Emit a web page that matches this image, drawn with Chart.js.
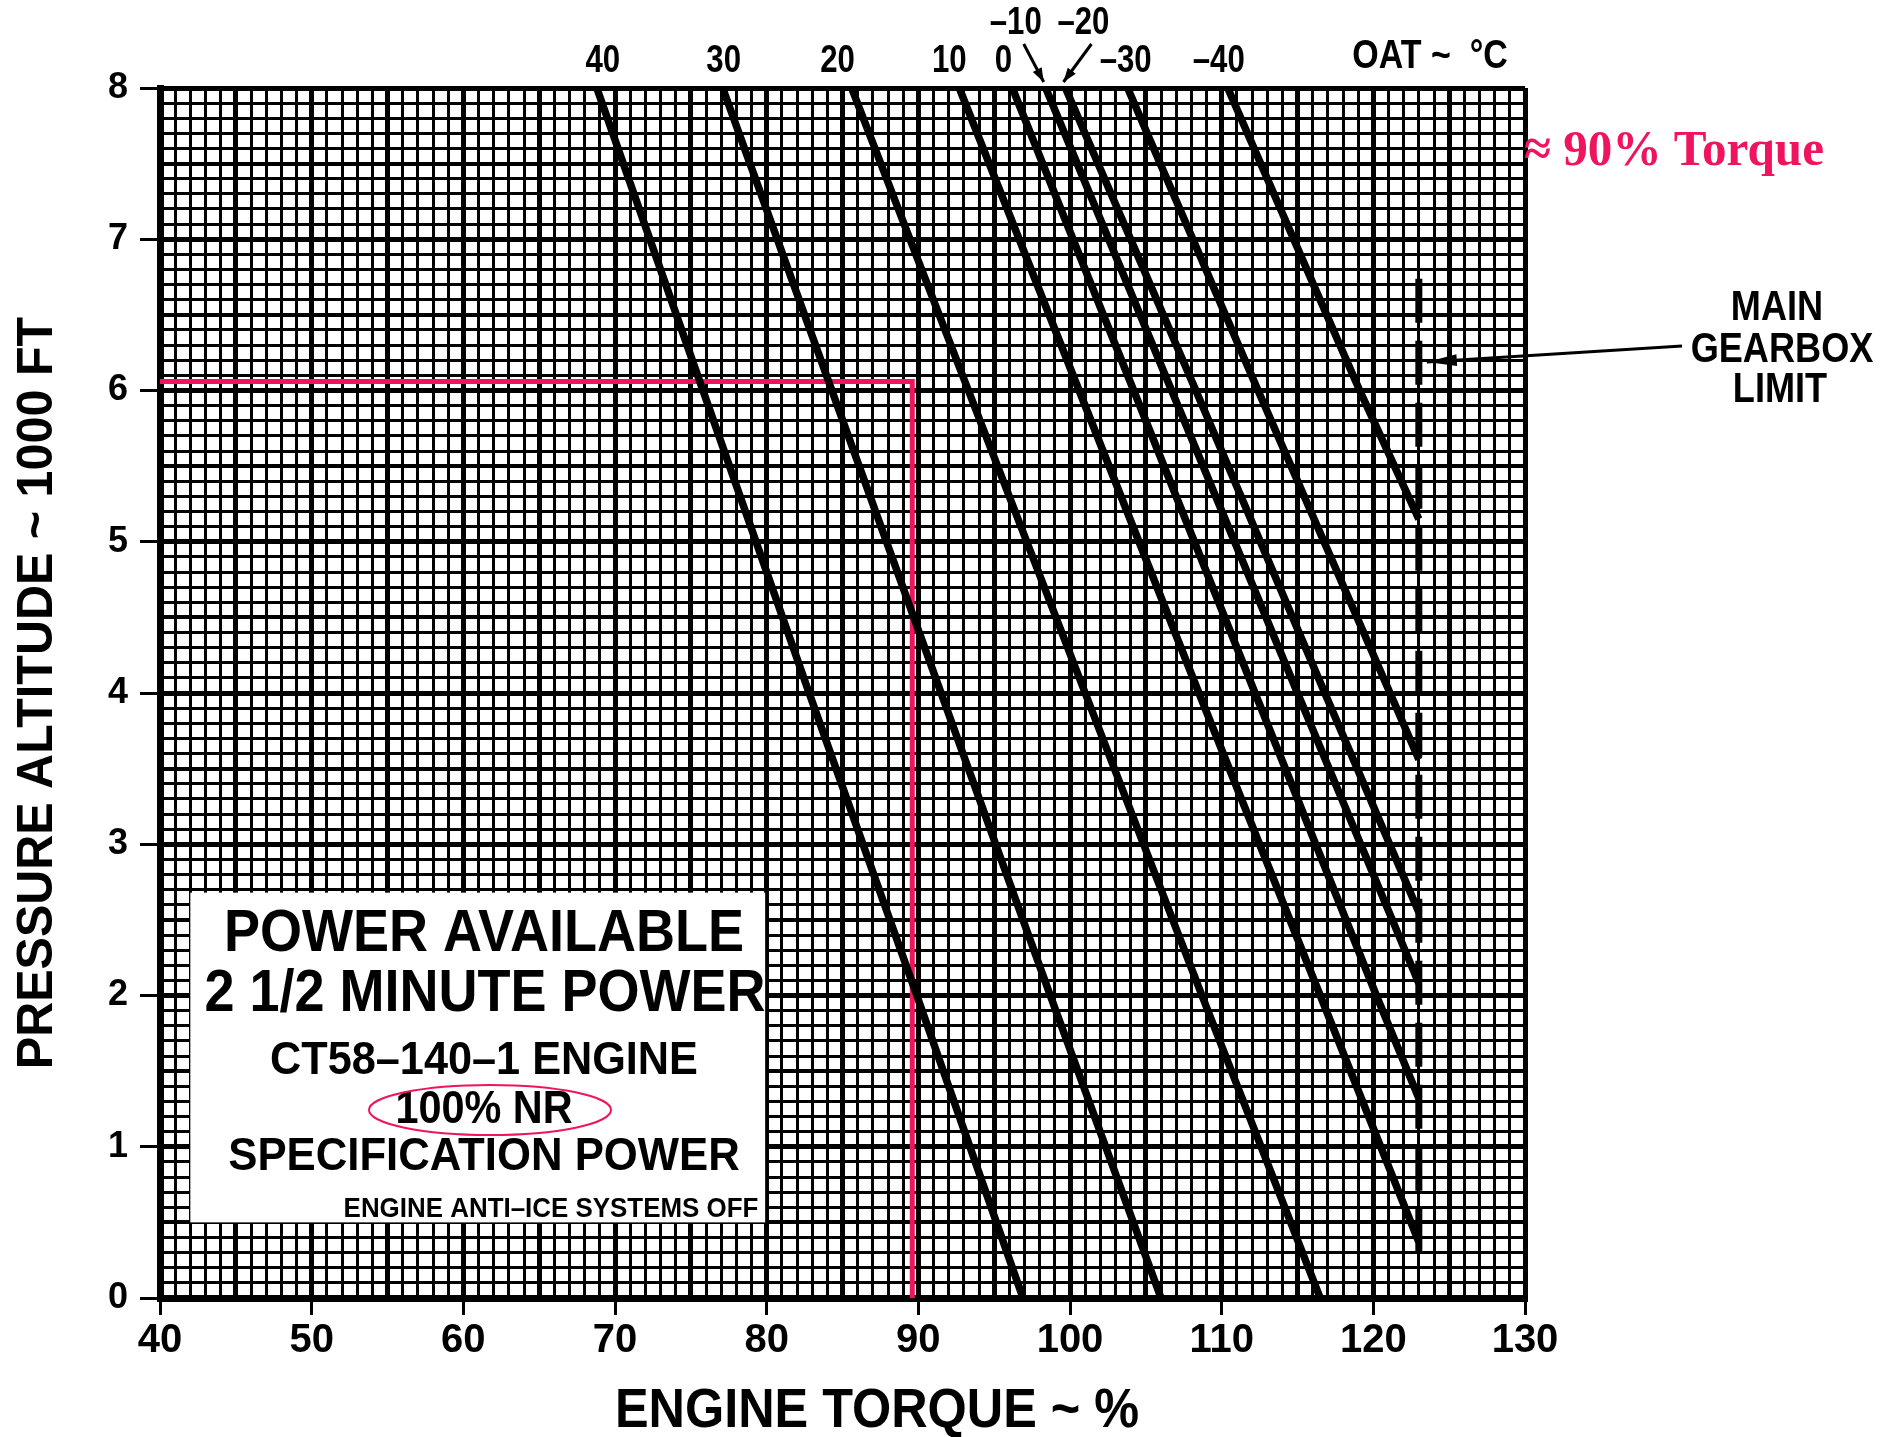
<!DOCTYPE html>
<html>
<head>
<meta charset="utf-8">
<script src="https://cdn.jsdelivr.net/npm/chart.js@4.4.1/dist/chart.umd.min.js"></script>
<style>
  body { margin: 0; background: #fff; }
  #wrap { width: 1881px; height: 1437px; }
</style>
</head>
<body>
<div id="wrap"><canvas id="myChart" width="1881" height="1437"></canvas></div>
<script>
// OAT lines: engine torque (%) against pressure altitude (1000 ft)
const oatLabels = ["40", "30", "20", "10", "0", "–10", "–20", "–30", "–40"];

const alt40 = [8, 6, 4, 2, 0];
const tq40 = [68.8, 75.8, 82.8, 89.9, 96.9];
const alt30 = [8, 6, 4, 2, 0];
const tq30 = [77.1, 84.3, 91.5, 98.7, 106.0];
const alt20 = [8, 6, 4, 2, 0];
const tq20 = [85.6, 93.3, 101.0, 108.7, 116.5];
const alt10 = [8, 6, 4, 2, 0.37];
const tq10 = [92.7, 100.6, 108.5, 116.5, 123];
const alt0 = [8, 6, 4, 2, 1.32];
const tq0 = [96.2, 104.2, 112.2, 120.2, 123];
const altM10 = [8, 6, 4, 2.08];
const tqM10 = [98.4, 106.7, 115.0, 123];
const altM20 = [8, 6, 4, 2.55];
const tqM20 = [99.7, 108.3, 116.8, 123];
const altM30 = [8, 6, 4, 3.56];
const tqM30 = [103.8, 112.4, 121.1, 123];
const altM40 = [8, 6, 5.15];
const tqM40 = [110.4, 119.1, 123];

// main gearbox limit (dashed)
const limitTorque = [123, 123];
const limitAlt = [0.3, 6.77];

// red reading guide (6000 ft -> ~90 %)
const guideTorque = [40, 89.6, 89.6];
const guideAlt = [6.06, 6.06, 0];

const torqueTicks = [40, 50, 60, 70, 80, 90, 100, 110, 120, 130];
const altTicks = [0, 1, 2, 3, 4, 5, 6, 7, 8];

const oatAlts = [alt40, alt30, alt20, alt10, alt0, altM10, altM20, altM30, altM40];
const oatTqs = [tq40, tq30, tq20, tq10, tq0, tqM10, tqM20, tqM30, tqM40];

function pts(xs, ys) {
  return xs.map((v, i) => ({x: v, y: ys[i]}));
}

const datasets = oatLabels.map((lab, i) => ({
  label: lab,
  data: pts(oatTqs[i], oatAlts[i]),
  borderColor: "#000",
  borderWidth: 7.5,
  pointRadius: 0,
  fill: false
}));
datasets.push({
  label: "limit",
  data: pts(limitTorque, limitAlt),
  borderColor: "#000",
  borderWidth: 7,
  borderDash: [44, 18],
  pointRadius: 0
});
datasets.push({
  label: "guide",
  data: pts(guideTorque, guideAlt),
  borderColor: "#f0145f",
  borderWidth: 5,
  pointRadius: 0
});

const FONT = "'Liberation Sans', Arial, sans-serif";

function squeezeText(ctx, text, x, y, size, squeeze, align) {
  ctx.save();
  ctx.font = "bold " + size + "px " + FONT;
  ctx.textAlign = align || "center";
  ctx.textBaseline = "middle";
  ctx.translate(x, y);
  ctx.scale(squeeze, 1);
  ctx.fillText(text, 0, 0);
  ctx.restore();
}

function arrow(ctx, x1, y1, x2, y2, head, wing) {
  ctx.beginPath();
  ctx.moveTo(x1, y1);
  ctx.lineTo(x2, y2);
  ctx.stroke();
  const a = Math.atan2(y2 - y1, x2 - x1);
  ctx.beginPath();
  ctx.moveTo(x2, y2);
  ctx.lineTo(x2 - head * Math.cos(a) + wing * Math.sin(a), y2 - head * Math.sin(a) - wing * Math.cos(a));
  ctx.lineTo(x2 - head * Math.cos(a) - wing * Math.sin(a), y2 - head * Math.sin(a) + wing * Math.cos(a));
  ctx.closePath();
  ctx.fill();
}

// label nudges for the OAT captions above the grid
const oatLabelDx = [6, 1, -14, -10, -9, -30, 18, -2, -9];
const oatLabelRaised = [false, false, false, false, false, true, true, false, false];

const notes = {
  id: "notes",
  afterDatasetsDraw(chart) {
    const {ctx, scales: {x, y}} = chart;
    ctx.save();
    ctx.fillStyle = "#000";
    ctx.strokeStyle = "#000";

    // text panel
    const bx1 = x.getPixelForValue(42), bx2 = x.getPixelForValue(79.9);
    const by1 = y.getPixelForValue(2.68), by2 = y.getPixelForValue(0.5);
    ctx.fillStyle = "#fff";
    ctx.fillRect(bx1, by1, bx2 - bx1, by2 - by1);
    ctx.fillStyle = "#000";
    squeezeText(ctx, "POWER AVAILABLE", 484, 934, 60, 0.9);
    squeezeText(ctx, "2 1/2 MINUTE POWER", 485, 994, 60, 0.9);
    squeezeText(ctx, "CT58–140–1 ENGINE", 484, 1061, 46, 0.94);
    squeezeText(ctx, "100% NR", 484, 1110, 46, 0.9);
    squeezeText(ctx, "SPECIFICATION POWER", 484, 1157, 46, 0.95);
    squeezeText(ctx, "ENGINE ANTI–ICE SYSTEMS OFF", 551, 1210, 27, 0.96);

    ctx.strokeStyle = "#f0145f";
    ctx.lineWidth = 2;
    ctx.beginPath();
    ctx.ellipse(490, 1110, 121, 25, 0, 0, Math.PI * 2);
    ctx.stroke();

    // OAT captions
    ctx.strokeStyle = "#000";
    ctx.fillStyle = "#000";
    oatLabels.forEach((lab, i) => {
      const px = x.getPixelForValue(oatTqs[i][0]);
      const cy = oatLabelRaised[i] ? 24 : 62;
      squeezeText(ctx, lab, px + oatLabelDx[i], cy, 38, 0.82);
      if (oatLabelRaised[i]) {
        ctx.lineWidth = 3;
        arrow(ctx, px + oatLabelDx[i] + 8, 44, px - 2, y.top - 6, 14, 5);
      }
    });
    squeezeText(ctx, "OAT ~  °C", 1430, 57, 40, 0.85);

    // gearbox limit caption
    squeezeText(ctx, "MAIN", 1777, 308, 42, 0.86);
    squeezeText(ctx, "GEARBOX", 1782, 350, 42, 0.86);
    squeezeText(ctx, "LIMIT", 1780, 390, 42, 0.86);
    ctx.lineWidth = 3;
    arrow(ctx, 1682, 346, x.getPixelForValue(123) + 8, 362, 30, 6);

    // red note
    ctx.fillStyle = "#f0145f";
    ctx.font = "bold 50px 'Liberation Serif', 'Times New Roman', serif";
    ctx.textAlign = "left";
    ctx.textBaseline = "middle";
    ctx.fillText("≈ 90% Torque", 1524, 152, 300);

    // axis titles
    ctx.fillStyle = "#000";
    squeezeText(ctx, "ENGINE TORQUE ~ %", 877, 1412, 56, 0.9);
    ctx.save();
    ctx.translate(38, 693);
    ctx.rotate(-Math.PI / 2);
    squeezeText(ctx, "PRESSURE ALTITUDE ~ 1000 FT", 0, 0, 50, 0.97);
    ctx.restore();

    ctx.restore();
  }
};

function isMajor(v, step) {
  return Math.abs(v / step - Math.round(v / step)) < 1e-6;
}

new Chart("myChart", {
  type: "line",
  data: {datasets: datasets},
  plugins: [notes],
  options: {
    responsive: false,
    animation: false,
    layout: {padding: {left: 0, top: 88, right: 356, bottom: 0}},
    plugins: {legend: {display: false}, tooltip: {enabled: false}},
    scales: {
      x: {
        type: "linear",
        min: 40,
        max: 130,
        afterFit: s => { s.height = 139; },
        border: {width: 7, color: "#000"},
        grid: {
          color: "#000",
          lineWidth: c => (c.tick && isMajor(c.tick.value, 5) ? 5 : 3),
          tickLength: 17,
          tickWidth: 3,
          tickColor: c => (c.tick && isMajor(c.tick.value, 10) && torqueTicks.includes(Math.round(c.tick.value)) ? "#000" : "rgba(0,0,0,0)")
        },
        ticks: {
          stepSize: 1,
          autoSkip: false,
          maxRotation: 0,
          padding: 2,
          color: "#000",
          font: {family: FONT, size: 40, weight: "bold"},
          callback: v => (torqueTicks.includes(v) ? String(v) : "")
        }
      },
      y: {
        type: "linear",
        min: 0,
        max: 8,
        afterFit: s => { s.width = 160; },
        border: {width: 7, color: "#000"},
        grid: {
          color: "#000",
          lineWidth: c => (c.tick && isMajor(c.tick.value, 1) ? 5 : (c.tick && isMajor(c.tick.value, 0.5) ? 4 : 3)),
          tickLength: 20,
          tickWidth: 3,
          tickColor: c => (c.tick && isMajor(c.tick.value, 1) ? "#000" : "rgba(0,0,0,0)")
        },
        ticks: {
          stepSize: 0.1,
          autoSkip: false,
          padding: 12,
          color: "#000",
          font: {family: FONT, size: 36, weight: "bold"},
          callback: v => (isMajor(v, 1) && altTicks.includes(Math.round(v)) ? String(Math.round(v)) : "")
        }
      }
    }
  }
});
</script>
</body>
</html>
